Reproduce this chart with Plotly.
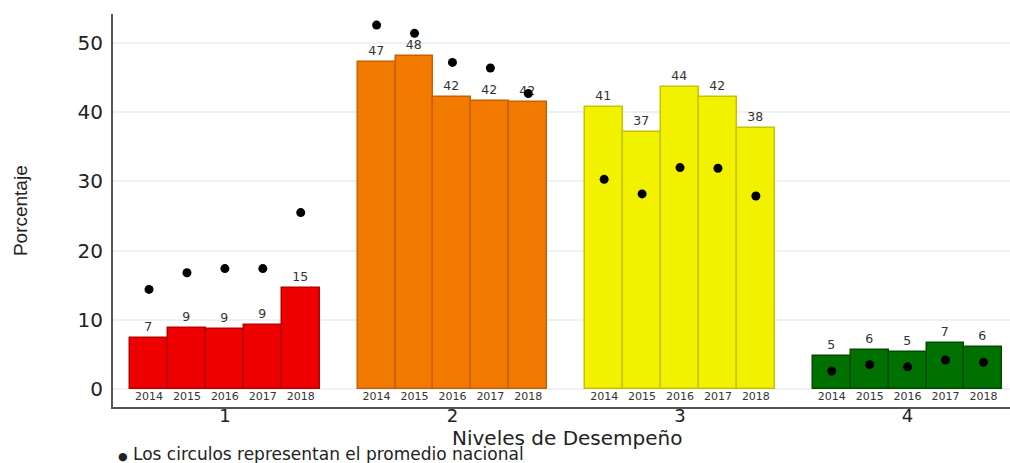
import plotly.graph_objects as go

levels = ["1", "2", "3", "4"]
years = ["2014", "2015", "2016", "2017", "2018"]
pct = [
    [7.4, 8.8, 8.7, 9.3, 14.6],
    [47.2, 48.1, 42.2, 41.6, 41.5],
    [40.8, 37.2, 43.6, 42.2, 37.7],
    [4.7, 5.6, 5.4, 6.6, 6.1],
]
national = [
    [14.4, 16.8, 17.4, 17.4, 25.5],
    [52.6, 51.4, 47.2, 46.4, 42.7],
    [30.3, 28.2, 32.0, 31.9, 27.9],
    [2.6, 3.5, 3.2, 4.2, 3.85],
]
fill_colors = ["#EE0000", "#F27A00", "#F2F200", "#007000"]
edge_colors = ["#B80000", "#C85F00", "#C4C400", "#004C00"]

FONT = "DejaVu Sans, Verdana, sans-serif"
fig = go.Figure()
centers = []
for i, lvl in enumerate(levels):
    c = 6 * (i + 1)
    centers.append(c)
    xs = [c + (j - 2) for j in range(len(years))]
    fig.add_trace(go.Bar(
        x=xs, y=pct[i], width=1.0,
        marker=dict(color=fill_colors[i], line=dict(color=edge_colors[i], width=1.5)),
        text=[f"{v:.0f}" for v in pct[i]], textposition="outside",
        textfont=dict(family=FONT, size=12.5, color="#333333"),
        cliponaxis=False, showlegend=False,
    ))
    fig.add_trace(go.Scatter(
        x=xs, y=[-1.25] * len(years), mode="text", text=years,
        textfont=dict(family=FONT, size=11, color="#333333"),
        showlegend=False, hoverinfo="skip",
    ))
    fig.add_trace(go.Scatter(
        x=xs, y=national[i], mode="markers",
        marker=dict(color="black", size=9),
        showlegend=False,
    ))

fig.update_layout(
    width=1010, height=463,
    margin=dict(l=113, r=0, t=14, b=56),
    plot_bgcolor="white", paper_bgcolor="white",
    bargap=0,
    xaxis=dict(
        range=[3.05, 26.7], tickvals=centers, ticktext=levels,
        showgrid=False, zeroline=False, automargin=False,
        showline=True, linecolor="#555555", linewidth=2,
        ticks="", ticklabelstandoff=-9,
        tickfont=dict(family=FONT, size=18, color="#222222"),
    ),
    yaxis=dict(
        range=[-2.6, 54.2], tickvals=[0, 10, 20, 30, 40, 50],
        showgrid=True, gridcolor="#EEF2F5", gridwidth=1.5, zeroline=False, automargin=False,
        showline=True, linecolor="#555555", linewidth=2,
        ticks="", ticklabelstandoff=4,
        tickfont=dict(family=FONT, size=20, color="#222222"),
    ),
    annotations=[
        dict(text="Niveles de Desempeño", xref="paper", yref="paper", x=0.506, y=-0.078,
             xanchor="center", yanchor="middle", showarrow=False,
             font=dict(family=FONT, size=20, color="#222222")),
        dict(text="Porcentaje", xref="paper", yref="paper", x=-0.103, y=0.5,
             xanchor="center", yanchor="middle", textangle=-90, showarrow=False,
             font=dict(family="Liberation Sans, Arial, sans-serif", size=19, color="#222222")),
        dict(text="<span style='font-size:11px'>●</span> Los circulos representan el promedio nacional",
             xref="paper", yref="paper", x=0.003, y=-0.12, xanchor="left", yanchor="middle",
             showarrow=False, font=dict(family=FONT, size=17, color="#222222")),
    ],
)

fig.write_html("out.html", config={"displayModeBar": False},
               post_script="document.body.style.margin='0';")
